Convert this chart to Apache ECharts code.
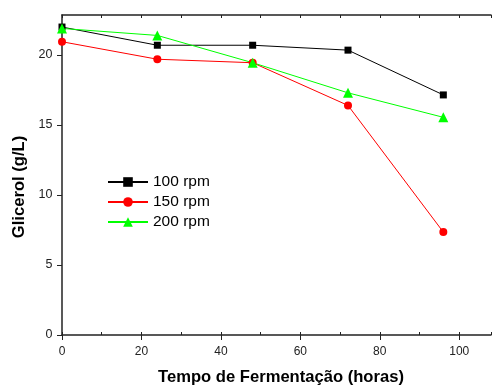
<!DOCTYPE html>
<html><head><meta charset="utf-8">
<script src="https://cdn.jsdelivr.net/npm/echarts@6/dist/echarts.min.js"></script>
<style>html,body{margin:0;padding:0;background:#fff}#c{width:492px;height:385px}</style>
</head><body><div id="c"></div>
<script>
const hours = [0, 24, 48, 72, 96];
const rpm100 = [22.0, 20.7, 20.7, 20.35, 17.15];
const rpm150 = [20.95, 19.7, 19.45, 16.4, 7.35];
const rpm200 = [21.9, 21.4, 19.45, 17.3, 15.55];
const seriesNames = ['100 rpm', '150 rpm', '200 rpm'];
const xTitle = 'Tempo de Fermentação (horas)';
const yTitle = 'Glicerol (g/L)';

const F = 'Liberation Sans, Arial, sans-serif';
const chart = echarts.init(document.getElementById('c'), null, {renderer: 'canvas'});
const pairs = v => hours.map((h, i) => [h, v[i]]);
const axisLine = {show: true, lineStyle: {color: '#222', width: 1.5}};
const XMAX = 108;
chart.setOption({
  animation: false,
  backgroundColor: '#fff',
  grid: {left: 62, top: 15, right: 1, bottom: 50, containLabel: false},
  xAxis: [{
    type: 'value', min: 0, max: XMAX, interval: 20, position: 'bottom',
    axisLine: axisLine, splitLine: {show: false},
    axisTick: {show: true, length: 5, lineStyle: {color: '#222', width: 1}},
    axisLabel: {color: '#222', fontFamily: F, fontSize: 12, margin: 11, showMaxLabel: false,
      formatter: v => (v % 20 === 0 ? String(v) : '')}
  }, {
    type: 'value', min: 0, max: XMAX, interval: 10, position: 'bottom',
    axisLine: {show: false}, splitLine: {show: false},
    axisTick: {show: true, inside: true, length: 3, lineStyle: {color: '#222', width: 1}},
    axisLabel: {show: false}
  }, {
    type: 'value', min: 0, max: XMAX, interval: 10, position: 'top',
    axisLine: axisLine, splitLine: {show: false},
    axisTick: {show: true, inside: true, length: 3, lineStyle: {color: '#222', width: 1}},
    axisLabel: {show: false}
  }],
  yAxis: [{
    type: 'value', min: 0, max: 22.86, interval: 5,
    axisLine: axisLine, splitLine: {show: false},
    axisTick: {show: true, length: 5, lineStyle: {color: '#222', width: 1}},
    axisLabel: {color: '#222', fontFamily: F, fontSize: 12.5, margin: 9.5, showMaxLabel: false,
      formatter: v => (Math.abs(v % 5) < 1e-6 ? String(v) : '')}
  }],
  legend: {
    orient: 'vertical', left: 102, top: 169, itemWidth: 40, itemHeight: 12, itemGap: 4,
    textStyle: {color: '#000', fontFamily: F, fontSize: 15.5},
    data: seriesNames
  },
  series: [
    {name: seriesNames[0], type: 'line', data: pairs(rpm100), xAxisIndex: 0,
      symbol: 'rect', symbolSize: 7, color: '#000',
      lineStyle: {color: '#000', width: 1}, itemStyle: {color: '#000'}},
    {name: seriesNames[1], type: 'line', data: pairs(rpm150), xAxisIndex: 0,
      symbol: 'circle', symbolSize: 8, color: '#ff0000',
      lineStyle: {color: '#ff0000', width: 1}, itemStyle: {color: '#ff0000'}},
    {name: seriesNames[2], type: 'line', data: pairs(rpm200), xAxisIndex: 0,
      symbol: 'triangle', symbolSize: 10, color: '#00ff00',
      lineStyle: {color: '#00ff00', width: 1}, itemStyle: {color: '#00ff00'}}
  ],
  graphic: [
    {type: 'text', x: 281, y: 377, style: {text: xTitle, font: 'bold 16.6px ' + F, fill: '#000',
      align: 'center', verticalAlign: 'middle'}},
    {type: 'text', x: 19, y: 187, rotation: Math.PI / 2,
      style: {text: yTitle, font: 'bold 16.6px ' + F, fill: '#000', align: 'center', verticalAlign: 'middle'}}
  ]
});
</script></body></html>
